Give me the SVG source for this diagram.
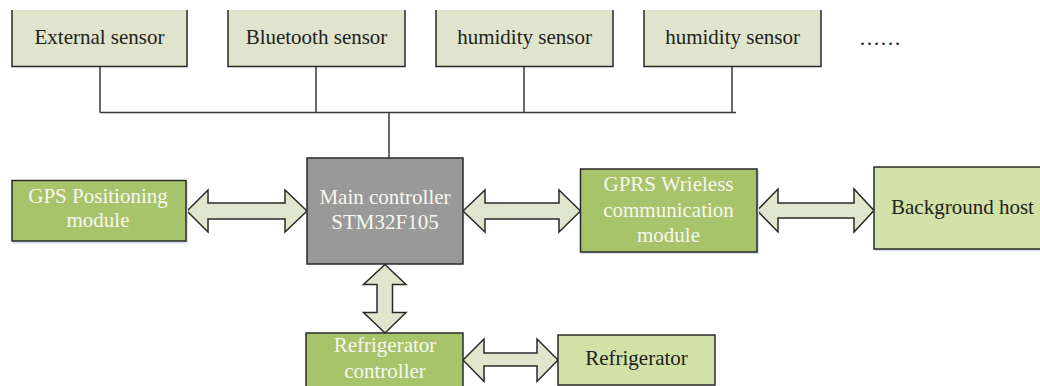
<svg xmlns="http://www.w3.org/2000/svg" width="1040" height="386" viewBox="0 0 1040 386">
<style>
text{font-family:"Liberation Serif","Times New Roman",serif;font-size:21px;text-anchor:middle}
.dk{fill:#222}
.wt{fill:#f7f7f0}
.sensor{fill:#e0e4cd}
.gr{fill:#a7c46a;stroke:#2a2a2a;stroke-width:1.5}
.lg{fill:#d2e1a6;stroke:#2a2a2a;stroke-width:1.5}
.mc{fill:#999999;stroke:#2a2a2a;stroke-width:1.5}
.edge{fill:none;stroke:#2a2a2a;stroke-width:1.5}
.arr{fill:#e0e5cd;stroke:#2a2a2a;stroke-width:1.5;stroke-linejoin:miter}
.sh{fill:#d4dcec}
.line{fill:none;stroke:#3a3a3a;stroke-width:1.5}
</style>
<rect width="1040" height="386" fill="#ffffff"/>

<g id="connectors">
<path class="line" d="M100 66.5V112.5M316 66.5V112.5M524 66.5V112.5M732 66.5V112.5M100 112.5H736M389 112.5V158"/>
<polygon class="arr" points="187,211 208,190 208,203 285,203 285,190 307,211 285,232 285,219 208,219 208,232"/>
<polygon class="arr" points="463,211 485,190 485,203 559,203 559,190 580.5,211 559,232 559,219 485,219 485,232"/>
<polygon class="arr" points="757,210.5 778,189 778,203 854,203 854,189 874,210.5 854,232 854,218 778,218 778,232"/>
<polygon class="arr" points="463,360 484,339 484,353 537,353 537,339 558,360 537,381.5 537,366 484,366 484,381.5"/>
<polygon class="arr" points="385,264.5 406,284.5 392.5,284.5 392.5,312.5 406,312.5 385,333 363.5,312.5 377,312.5 377,284.5 363.5,284.5"/>
</g>

<g id="external-sensor">
<rect class="sensor" x="12" y="10" width="175" height="56.5"/>
<path class="edge" d="M12 10V66.5H187V10"/>
<text class="dk" x="99.5" y="44">External sensor</text>
</g>
<g id="bluetooth-sensor">
<rect class="sensor" x="228" y="10" width="177" height="56.5"/>
<path class="edge" d="M228 10V66.5H405V10"/>
<text class="dk" x="316.5" y="44">Bluetooth sensor</text>
</g>
<g id="humidity-sensor-1">
<rect class="sensor" x="436" y="10" width="177" height="56.5"/>
<path class="edge" d="M436 10V66.5H613V10"/>
<text class="dk" x="524.5" y="44">humidity sensor</text>
</g>
<g id="humidity-sensor-2">
<rect class="sensor" x="644" y="10" width="177" height="56.5"/>
<path class="edge" d="M644 10V66.5H821V10"/>
<text class="dk" x="732.5" y="44">humidity sensor</text>
</g>
<g id="more">
<text class="dk" x="880" y="45">……</text>
</g>

<g id="main-controller">
<rect class="mc" x="307" y="158" width="156" height="106"/>
<text class="wt" x="385" y="204">Main controller</text>
<text class="wt" x="385" y="229">STM32F105</text>
</g>

<g id="gps">
<rect class="sh" x="13" y="181.5" width="175" height="62"/>
<rect class="gr" x="12" y="180.5" width="174" height="60.5"/>
<text class="wt" x="98" y="203">GPS Positioning</text>
<text class="wt" x="98" y="227">module</text>
</g>

<g id="gprs">
<rect class="sh" x="581" y="170" width="178" height="84"/>
<rect class="gr" x="580.5" y="169" width="176.5" height="83"/>
<text class="wt" x="668.5" y="191">GPRS Wrieless</text>
<text class="wt" x="668.5" y="217">communication</text>
<text class="wt" x="668.5" y="242">module</text>
</g>

<g id="background-host">
<rect class="sh" x="875" y="168" width="170" height="83"/>
<rect class="lg" x="874" y="167" width="170" height="82"/>
<text class="dk" x="962.5" y="214">Background host</text>
</g>

<g id="refrigerator-controller">
<rect class="gr" x="306" y="333" width="157" height="60"/>
<text class="wt" x="385" y="352">Refrigerator</text>
<text class="wt" x="385" y="378">controller</text>
</g>

<g id="refrigerator">
<rect class="lg" x="558" y="335" width="157" height="50"/>
<text class="dk" x="636.5" y="365">Refrigerator</text>
</g>
</svg>
